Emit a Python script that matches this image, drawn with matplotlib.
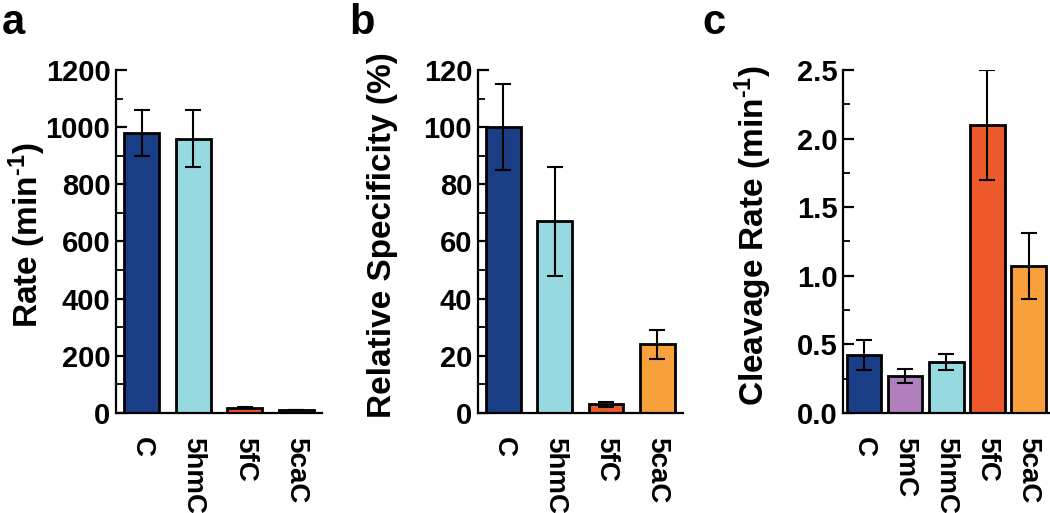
import matplotlib
matplotlib.use('Agg')
from matplotlib import pyplot as plt
from matplotlib.ticker import MultipleLocator
import numpy as np

plt.rcParams['font.family'] = ['Liberation Sans', 'DejaVu Sans']
plt.rcParams['font.weight'] = 'bold'
plt.rcParams['mathtext.fontset'] = 'custom'
plt.rcParams['mathtext.rm'] = 'Liberation Sans:bold'
plt.rcParams['mathtext.bf'] = 'Liberation Sans:bold'
plt.rcParams['mathtext.default'] = 'bf'

# colours of the bases
dark_blue = '#1A3E86'
light_blue = '#97D9E1'
red_orange = '#EE592B'
orange = '#F8A03C'
purple = '#B17FBB'

# panel a - rate
a_labels = ['C', '5hmC', '5fC', '5caC']
a_values = [980, 960, 18, 10]
a_lower = [900, 860, 16, 10]
a_upper = [1060, 1060, 22, 10]
a_colors = [dark_blue, light_blue, red_orange, orange]

# panel b - relative specificity
b_labels = ['C', '5hmC', '5fC', '5caC']
b_values = [100, 67, 3, 24]
b_lower = [85, 48, 2, 19]
b_upper = [115, 86, 4, 29]
b_colors = [dark_blue, light_blue, red_orange, orange]

# panel c - cleavage rate
c_labels = ['C', '5mC', '5hmC', '5fC', '5caC']
c_values = [0.42, 0.27, 0.37, 2.1, 1.07]
c_lower = [0.31, 0.22, 0.31, 1.70, 0.83]
c_upper = [0.53, 0.32, 0.43, 2.50, 1.31]
c_colors = [dark_blue, purple, light_blue, red_orange, orange]

fig = plt.figure(figsize=(10.5, 5.13), dpi=100)

bottom = 0.195
height = 0.6685
ax_a = fig.add_axes([0.1105, bottom, 0.1962, height])
ax_b = fig.add_axes([0.455, bottom, 0.1955, height])
ax_c = fig.add_axes([0.8032, bottom, 0.1960, height])


def draw_panel(ax, labels, values, lower, upper, colors, width, ylim, major, minor, fmt, ylabel, label_x):
    x = np.arange(len(labels))
    values = np.array(values)
    yerr = [values - np.array(lower), np.array(upper) - values]
    ax.bar(x, values, width=width, color=colors, edgecolor='black', linewidth=2, zorder=2)
    ax.errorbar(x, values, yerr=yerr, fmt='none', ecolor='black', elinewidth=1.5,
                capsize=5.5, capthick=1.5, zorder=3)
    ax.set_xlim(-0.5, len(labels) - 0.5)
    ax.set_ylim(*ylim)
    ax.yaxis.set_major_locator(MultipleLocator(major))
    ax.yaxis.set_minor_locator(MultipleLocator(minor))
    ax.yaxis.set_major_formatter(fmt)
    ax.tick_params(axis='y', which='major', direction='in', length=8, width=1.6, labelsize=21, pad=4)
    ax.tick_params(axis='y', which='minor', direction='in', length=5, width=1.3)
    ax.set_xticks(x)
    ax.set_xticklabels(labels, rotation=-90, fontsize=20, fontweight='bold')
    ax.tick_params(axis='x', length=0, pad=17)
    for s in ['top', 'right']:
        ax.spines[s].set_visible(False)
    for s in ['left', 'bottom']:
        ax.spines[s].set_linewidth(1.6)
    for lab in ax.get_yticklabels():
        lab.set_fontweight('bold')
    # y label placed by hand, centred a little above the middle of the axis
    ax.text(label_x, 0.519, ylabel, transform=ax.transAxes, rotation=90,
            ha='center', va='center', fontsize=24, fontweight='bold')


draw_panel(ax_a, a_labels, a_values, a_lower, a_upper, a_colors, 0.68,
           (0, 1200), 200, 100, '{x:.0f}', 'Rate (min$^{\u20101}$)', -0.433)
draw_panel(ax_b, b_labels, b_values, b_lower, b_upper, b_colors, 0.68,
           (0, 120), 20, 10, '{x:.0f}', 'Relative Specificity (%)', -0.464)
draw_panel(ax_c, c_labels, c_values, c_lower, c_upper, c_colors, 0.84,
           (0, 2.5), 0.5, 0.25, '{x:.1f}', 'Cleavage Rate (min$^{\u20101}$)', -0.438)

# panel letters
fig.text(0.002, 0.995, 'a', fontsize=30, fontweight='bold', va='top', ha='left')
fig.text(0.333, 0.995, 'b', fontsize=30, fontweight='bold', va='top', ha='left')
fig.text(0.669, 0.995, 'c', fontsize=30, fontweight='bold', va='top', ha='left')

fig.savefig('out.png', dpi=100)
